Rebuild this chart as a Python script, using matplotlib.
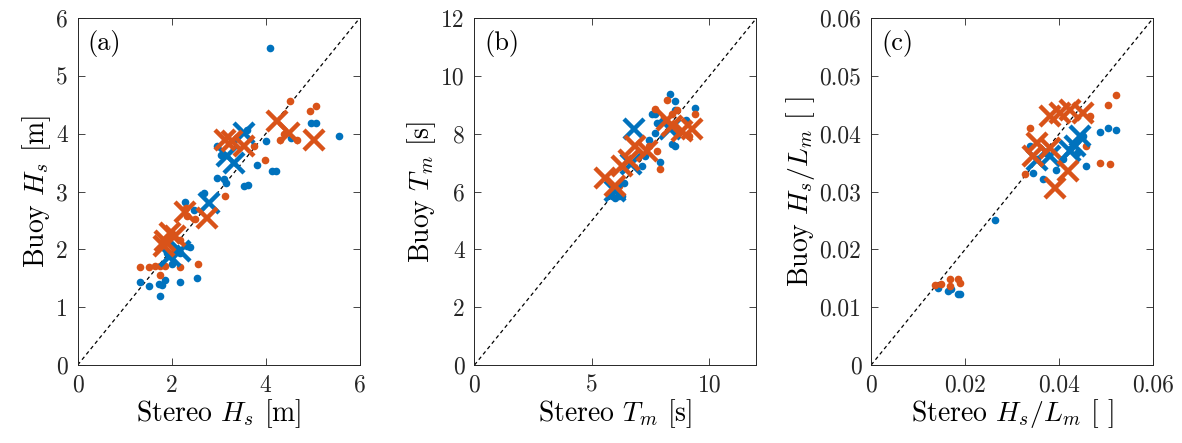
import matplotlib
matplotlib.use("Agg")
import matplotlib.pyplot as plt

plt.rcParams["font.family"] = "serif"
plt.rcParams["font.serif"] = ["cmr10", "DejaVu Serif"]
plt.rcParams["mathtext.fontset"] = "cm"
plt.rcParams["axes.unicode_minus"] = False
plt.rcParams["axes.formatter.use_mathtext"] = True

BLUE = "#0072BD"
ORANGE = "#D95319"

# panel (a): significant wave height
hs_blue_dots_x = [4.09, 5.56, 4.97, 5.08, 4.00, 3.82, 4.14, 4.21, 3.53, 3.62, 2.96, 3.12, 3.16,
                  2.68, 2.29, 2.47, 2.40, 2.00, 2.18, 2.54, 1.33, 1.52, 1.72, 1.79, 1.85, 1.76,
                  3.04, 4.53, 2.18, 2.32, 2.96, 3.60, 1.90]
hs_blue_dots_y = [5.49, 3.97, 4.19, 4.19, 3.87, 3.46, 3.35, 3.35, 3.10, 3.12, 3.24, 3.21, 3.15,
                  2.98, 2.82, 2.68, 2.05, 1.75, 1.44, 1.51, 1.44, 1.37, 1.40, 1.38, 1.47, 1.19,
                  3.64, 3.93, 1.94, 2.06, 3.79, 4.07, 1.94]
hs_orange_dots_x = [4.51, 4.95, 5.08, 3.99, 3.13, 2.31, 2.32, 1.33, 1.52, 1.65, 1.76, 1.86, 2.18,
                    2.55, 4.31, 4.39, 4.67, 2.18, 2.50, 3.75, 1.76]
hs_orange_dots_y = [4.57, 4.39, 4.48, 3.54, 2.93, 2.72, 2.58, 1.69, 1.69, 1.71, 1.55, 1.71, 1.70,
                    1.74, 3.90, 3.99, 3.90, 2.17, 2.52, 3.79, 1.71]
hs_blue_x_x = [3.53, 3.32, 3.18, 2.79, 2.18, 1.97]
hs_blue_x_y = [4.02, 3.50, 3.61, 2.81, 1.97, 1.89]
hs_orange_x_x = [4.24, 4.49, 5.03, 3.14, 3.28, 3.53, 2.75, 1.86, 1.97, 2.08, 1.83, 2.29]
hs_orange_x_y = [4.22, 4.02, 3.90, 3.90, 3.87, 3.79, 2.55, 2.15, 2.29, 2.23, 2.06, 2.64]

# panel (b): mean wave period
tm_blue_dots_x = [8.34, 8.52, 9.40, 8.55, 7.56, 7.70, 7.77, 8.41, 8.52, 7.91, 7.27, 6.14, 6.28,
                  6.00, 5.86, 6.35, 7.42, 8.98, 7.70, 7.13]
tm_blue_dots_y = [9.38, 9.13, 8.90, 8.84, 8.67, 8.67, 8.38, 7.63, 7.57, 7.03, 7.23, 5.85, 5.85,
                  5.79, 5.85, 6.31, 7.80, 8.49, 8.03, 6.88]
tm_orange_dots_x = [8.20, 7.70, 8.62, 9.40, 7.91, 7.77, 9.12, 6.14, 8.41, 7.42]
tm_orange_dots_y = [9.18, 8.86, 8.84, 8.67, 6.77, 7.40, 7.92, 6.19, 8.67, 7.57]
tm_blue_x_x = [6.78, 6.00, 6.64, 8.34]
tm_blue_x_y = [8.15, 6.02, 6.94, 8.15]
tm_orange_x_x = [5.57, 6.00, 6.56, 6.85, 7.34, 8.41, 8.83, 9.26, 6.28, 8.20]
tm_orange_x_y = [6.48, 6.19, 7.11, 7.57, 7.40, 8.26, 8.09, 8.15, 6.88, 8.49]

# panel (c): wave steepness
st_blue_dots_x = [0.0263, 0.0142, 0.0163, 0.0185, 0.0190, 0.0487, 0.0503, 0.0520, 0.0458, 0.0366,
                  0.0344, 0.0337, 0.0423, 0.0437, 0.0394, 0.0373, 0.0352, 0.0451, 0.0170, 0.0408]
st_blue_dots_y = [0.0251, 0.0134, 0.0128, 0.0123, 0.0123, 0.0403, 0.0410, 0.0406, 0.0345, 0.0321,
                  0.0332, 0.0379, 0.0373, 0.0367, 0.0338, 0.0367, 0.0356, 0.0396, 0.0131, 0.0356]
st_orange_dots_x = [0.0520, 0.0503, 0.0487, 0.0508, 0.0337, 0.0327, 0.0135, 0.0149, 0.0167,
                    0.0185, 0.0190, 0.0167, 0.0465, 0.0458]
st_orange_dots_y = [0.0467, 0.0449, 0.0350, 0.0347, 0.0410, 0.0330, 0.0139, 0.0140, 0.0148,
                    0.0148, 0.0142, 0.0137, 0.0430, 0.0379]
st_blue_x_x = [0.0444, 0.0423, 0.0380, 0.0352, 0.0433]
st_blue_x_y = [0.0396, 0.0370, 0.0361, 0.0355, 0.0379]
st_orange_x_x = [0.0391, 0.0419, 0.0380, 0.0423, 0.0451, 0.0401, 0.0352, 0.0380, 0.0344]
st_orange_x_y = [0.0307, 0.0335, 0.0430, 0.0442, 0.0436, 0.0436, 0.0384, 0.0376, 0.0361]

panels = [
    {
        "tag": "(a)", "lim": 6,
        "xticks": [0, 2, 4, 6], "xlabels": ["0", "2", "4", "6"],
        "yticks": [0, 1, 2, 3, 4, 5, 6], "ylabels": ["0", "1", "2", "3", "4", "5", "6"],
        "xlabel": r"Stereo $H_s$ [m]", "ylabel": r"Buoy $H_s$ [m]",
        "data": (hs_blue_dots_x, hs_blue_dots_y, hs_orange_dots_x, hs_orange_dots_y,
                 hs_blue_x_x, hs_blue_x_y, hs_orange_x_x, hs_orange_x_y),
    },
    {
        "tag": "(b)", "lim": 12,
        "xticks": [0, 5, 10], "xlabels": ["0", "5", "10"],
        "yticks": [0, 2, 4, 6, 8, 10, 12], "ylabels": ["0", "2", "4", "6", "8", "10", "12"],
        "xlabel": r"Stereo $T_m$ [s]", "ylabel": r"Buoy $T_m$ [s]",
        "data": (tm_blue_dots_x, tm_blue_dots_y, tm_orange_dots_x, tm_orange_dots_y,
                 tm_blue_x_x, tm_blue_x_y, tm_orange_x_x, tm_orange_x_y),
    },
    {
        "tag": "(c)", "lim": 0.06,
        "xticks": [0, 0.02, 0.04, 0.06], "xlabels": ["0", "0.02", "0.04", "0.06"],
        "yticks": [0, 0.01, 0.02, 0.03, 0.04, 0.05, 0.06],
        "ylabels": ["0", "0.01", "0.02", "0.03", "0.04", "0.05", "0.06"],
        "xlabel": r"Stereo $H_s/L_m$ [ ]", "ylabel": r"Buoy $H_s/L_m$ [ ]",
        "data": (st_blue_dots_x, st_blue_dots_y, st_orange_dots_x, st_orange_dots_y,
                 st_blue_x_x, st_blue_x_y, st_orange_x_x, st_orange_x_y),
    },
]

fig = plt.figure(figsize=(11.82, 4.43), dpi=100)
lefts = [0.0657, 0.4014, 0.737]

for left, p in zip(lefts, panels):
    ax = fig.add_axes([left, 0.176, 0.2386, 0.783])
    bdx, bdy, odx, ody, bxx, bxy, oxx, oxy = p["data"]
    lim = p["lim"]

    ax.plot([0, lim], [0, lim], "k--", lw=0.9, dashes=(3, 2.5), zorder=1)
    ax.plot(bdx, bdy, "o", color=BLUE, ms=5.5, mec="none", zorder=2)
    ax.plot(odx, ody, "o", color=ORANGE, ms=5.5, mec="none", zorder=2)
    ax.plot(bxx, bxy, "x", color=BLUE, ms=14, mew=3.2, zorder=3)
    ax.plot(oxx, oxy, "x", color=ORANGE, ms=14, mew=3.2, zorder=3)

    ax.set_xlim(0, lim)
    ax.set_ylim(0, lim)
    ax.set_xticks(p["xticks"])
    ax.set_xticklabels(p["xlabels"])
    ax.set_yticks(p["yticks"])
    ax.set_yticklabels(p["ylabels"])
    ax.tick_params(direction="in", top=True, right=True, length=5, width=0.6, pad=7,
                   labelsize=17, colors="#262626", labelcolor="#262626")
    for s in ax.spines.values():
        s.set_linewidth(0.7)
        s.set_color("#262626")

    ax.set_xlabel(p["xlabel"], fontsize=20, labelpad=0)
    ax.set_ylabel(p["ylabel"], fontsize=20, labelpad=2)
    ax.text(0.035, 0.965, p["tag"], transform=ax.transAxes, fontsize=19,
            ha="left", va="top")

fig.savefig("out.png", dpi=100)
